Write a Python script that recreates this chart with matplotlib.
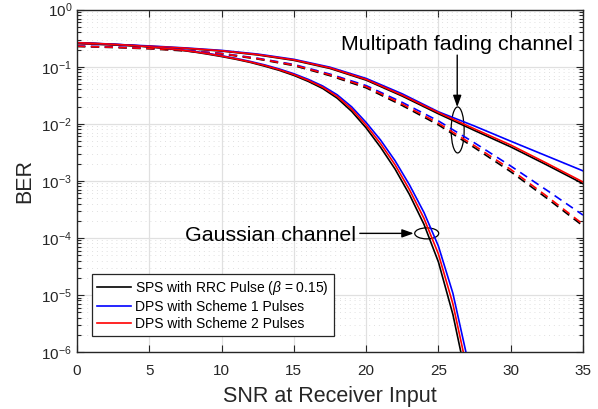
import matplotlib
matplotlib.use("Agg")
import matplotlib.pyplot as plt
from matplotlib.patches import Ellipse
from matplotlib.transforms import ScaledTranslation
from matplotlib.ticker import LogLocator, NullFormatter

plt.rcParams["font.family"] = ["Liberation Sans", "DejaVu Sans"]
plt.rcParams["mathtext.fontset"] = "custom"
plt.rcParams["mathtext.rm"] = "Liberation Sans"
plt.rcParams["mathtext.it"] = "Liberation Sans:italic"

# Gaussian channel curves (solid), one point per dB
gauss_snr_sps = list(range(0, 27)) + [26.55]
gauss_ber_sps = [0.263, 0.257, 0.250, 0.242, 0.233, 0.222, 0.210, 0.197, 0.183, 0.167,
                 0.151, 0.135, 0.119, 0.102, 0.0863, 0.0705, 0.0553, 0.0415, 0.0281, 0.0165,
                 0.00847, 0.00387, 0.00161, 5.73e-4, 1.73e-4, 3.78e-5, 4.55e-6, 1e-6]
gauss_snr_dps1 = list(range(0, 27)) + [26.9]
gauss_ber_dps1 = [0.265, 0.259, 0.252, 0.245, 0.236, 0.226, 0.214, 0.201, 0.1875, 0.172,
                  0.156, 0.140, 0.1236, 0.1074, 0.0912, 0.0753, 0.0600, 0.0459, 0.0322, 0.0198,
                  0.01054, 0.00518, 0.00225, 8.47e-4, 2.79e-4, 7.16e-5, 1.07e-5, 1e-6]
gauss_snr_dps2 = list(range(0, 27)) + [26.72]
gauss_ber_dps2 = [0.264, 0.258, 0.251, 0.2434, 0.2344, 0.224, 0.2123, 0.1993, 0.1851, 0.1698,
                  0.1538, 0.1374, 0.1211, 0.1048, 0.0887, 0.0729, 0.0576, 0.0437, 0.0301, 0.0181,
                  0.00945, 0.00448, 0.00191, 6.97e-4, 2.20e-4, 5.21e-5, 6.97e-6, 1e-6]

# Multipath fading channel curves, every 2.5 dB
fading_snr = [0, 2.5, 5, 7.5, 10, 12.5, 15, 17.5, 20, 22.5, 25, 27.5, 30, 32.5, 35]
fade_solid_sps = [0.2541, 0.2410, 0.2265, 0.2089, 0.1884, 0.1611, 0.1294, 0.0933, 0.05821,
                  0.03055, 0.01496, 7.621e-3, 3.936e-3, 1.897e-3, 8.913e-4]
fade_solid_dps1 = [0.2600, 0.2466, 0.2318, 0.2138, 0.1936, 0.1667, 0.1349, 0.0982, 0.06237,
                   0.03350, 0.01622, 9.120e-3, 4.955e-3, 2.723e-3, 1.496e-3]
fade_solid_dps2 = [0.2570, 0.2438, 0.2291, 0.2113, 0.1905, 0.1633, 0.1318, 0.0955, 0.05998,
                   0.03177, 0.01574, 8.128e-3, 4.246e-3, 2.032e-3, 9.550e-4]
fade_dash_sps = [0.2265, 0.2173, 0.2065, 0.1892, 0.1679, 0.1365, 0.1047, 0.06966, 0.04266,
                 0.02089, 9.550e-3, 3.802e-3, 1.445e-3, 4.955e-4, 1.622e-4]
fade_dash_dps1 = [0.2318, 0.2223, 0.2113, 0.1936, 0.1718, 0.1409, 0.1096, 0.07430, 0.04677,
                  0.02371, 0.01122, 4.624e-3, 1.820e-3, 6.839e-4, 2.512e-4]
fade_dash_dps2 = [0.2291, 0.2198, 0.2089, 0.1914, 0.1698, 0.1387, 0.1072, 0.07194, 0.04467,
                  0.02213, 0.01023, 4.121e-3, 1.585e-3, 5.370e-4, 1.738e-4]

labels = ["SPS with RRC Pulse ($\\beta$ = 0.15)", "DPS with Scheme 1 Pulses", "DPS with Scheme 2 Pulses"]
colors = ["#000000", "#0000ff", "#ff0000"]
LW = 1.2
DASH = (0, (5, 3.3))

fig = plt.figure(figsize=(5.98, 4.09), dpi=100)
ax = fig.add_axes([0.1288, 0.1394, 0.8461, 0.8369])

# grid
ax.set_axisbelow(True)
ax.grid(True, which="major", color="#e0e0e0", linewidth=0.9)
ax.grid(True, which="minor", axis="y", color="#e0e0e0", linewidth=0.7, linestyle=(0, (1, 4)))

for b, c in zip([fade_solid_sps, fade_solid_dps1, fade_solid_dps2], colors):
    ax.semilogy(fading_snr, b, color=c, linewidth=LW)
for b, c in zip([fade_dash_sps, fade_dash_dps1, fade_dash_dps2], colors):
    ax.semilogy(fading_snr, b, color=c, linewidth=LW, linestyle=DASH)
handles = []
for s, b, c, lab in zip([gauss_snr_sps, gauss_snr_dps1, gauss_snr_dps2],
                        [gauss_ber_sps, gauss_ber_dps1, gauss_ber_dps2], colors, labels):
    h, = ax.semilogy(s, b, color=c, linewidth=LW, label=lab)
    handles.append(h)

ax.set_xlim(0, 35)
ax.set_ylim(1e-6, 1)
ax.set_xticks(range(0, 36, 5))
ax.yaxis.set_major_locator(LogLocator(base=10, numticks=10))
ax.yaxis.set_minor_locator(LogLocator(base=10, subs=range(2, 10), numticks=20))
ax.yaxis.set_minor_formatter(NullFormatter())

ax.tick_params(which="both", direction="in", top=True, right=True, colors="#262626",
               labelsize=11, width=0.8)
ax.tick_params(which="major", length=5)
ax.tick_params(which="minor", length=2.8)
ax.tick_params(axis="x", pad=8.5)
for sp in ax.spines.values():
    sp.set_color("#262626")
    sp.set_linewidth(1.0)

ax.set_xlabel("SNR at Receiver Input", fontsize=15.5, color="#262626", labelpad=6)
ax.set_ylabel("BER", fontsize=15.5, color="#262626", labelpad=4)

leg = ax.legend(handles=handles, loc="lower left", bbox_to_anchor=(0.030, 0.047), fontsize=10,
                handlelength=2.45, handletextpad=0.3, borderpad=0.35, labelspacing=0.22,
                frameon=True, fancybox=False, framealpha=1, borderaxespad=0)
leg.get_frame().set_edgecolor("#262626")
leg.get_frame().set_linewidth(0.9)

# annotations
arrow_style = dict(arrowstyle="-|>,head_length=0.7,head_width=0.25", color="black",
                   linewidth=1.0, shrinkA=0, shrinkB=0)
ax.text(26.26, 0.25, "Multipath fading channel", fontsize=15.4, ha="center", va="center")
ax.annotate("", xy=(26.3, 0.0196), xytext=(26.3, 0.16), arrowprops=arrow_style)
ax.text(13.4, 1.12e-4, "Gaussian channel", fontsize=15.4, ha="center", va="center")
ax.annotate("", xy=(23.29, 1.2e-4), xytext=(19.56, 1.2e-4), arrowprops=arrow_style)

for (cx, cy), (w, h) in [((26.33, 7.8e-3), (0.13, 0.46)), ((24.19, 1.2e-4), (0.24, 0.11))]:
    tr = fig.dpi_scale_trans + ScaledTranslation(cx, cy, ax.transData)
    ax.add_patch(Ellipse((0, 0), w, h, transform=tr, fill=False, edgecolor="black", linewidth=0.9))

fig.savefig("out.png", dpi=100)
